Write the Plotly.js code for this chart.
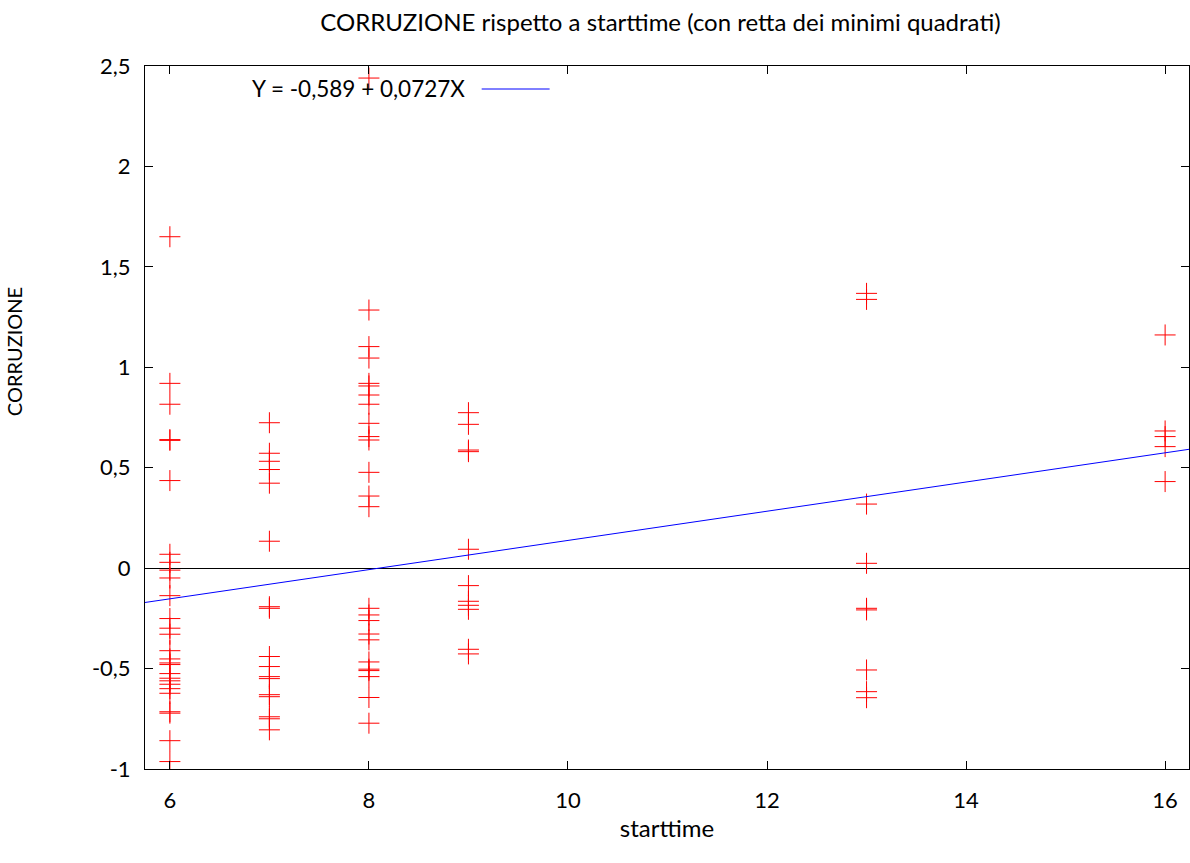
<!DOCTYPE html>
<html>
<head>
<meta charset="utf-8">
<script src="https://cdn.plot.ly/plotly-3.0.1.min.js"></script>
<style>html,body{margin:0;padding:0;background:#fff;} #chart{width:1190px;height:863px;}</style>
</head>
<body>
<div id="chart"></div>
<script>
// Data
const x6 = [1.65, 0.92, 0.816, 0.64, 0.636, 0.436, 0.069, 0.029, -0.01, -0.049, -0.137, -0.251, -0.299, -0.329, -0.411, -0.452, -0.472, -0.48, -0.525, -0.548, -0.561, -0.578, -0.60, -0.623, -0.715, -0.722, -0.859, -0.963];
const x7 = [0.724, 0.572, 0.532, 0.491, 0.423, 0.134, -0.192, -0.20, -0.44, -0.49, -0.54, -0.55, -0.63, -0.64, -0.74, -0.75, -0.805];
const x8 = [2.44, 1.285, 1.103, 1.046, 0.92, 0.907, 0.862, 0.816, 0.721, 0.655, 0.638, 0.477, 0.359, 0.306, -0.20, -0.233, -0.261, -0.328, -0.357, -0.467, -0.503, -0.51, -0.54, -0.644, -0.772];
const x9 = [0.774, 0.716, 0.588, 0.58, 0.094, -0.087, -0.165, -0.185, -0.205, -0.404, -0.427];
const x13 = [1.368, 1.338, 0.319, 0.024, -0.20, -0.208, -0.507, -0.615, -0.645];
const x16 = [1.161, 0.683, 0.655, 0.605, 0.431];
const groupX = [6, 7, 8, 9, 13, 16];
const groupY = [x6, x7, x8, x9, x13, x16];

const intercept = -0.589;
const slope = 0.0727;
const xRange = [5.75, 16.24];
const yRange = [-1, 2.5];

const yTickVals = [-1, -0.5, 0, 0.5, 1, 1.5, 2, 2.5];
const yTickText = ['-1', '-0,5', '0', '0,5', '1', '1,5', '2', '2,5'];
const xTickVals = [6, 8, 10, 12, 14, 16];
const xTickText = ['6', '8', '10', '12', '14', '16'];

const ptsX = [], ptsY = [];
groupX.forEach((gx, i) => groupY[i].forEach(v => { ptsX.push(gx); ptsY.push(v); }));

const lineX = xRange.slice();
const lineY = lineX.map(x => intercept + slope * x);

const FONT = 'Lato, "Open Sans", sans-serif';

const traces = [
  {
    x: ptsX, y: ptsY, type: 'scatter', mode: 'markers',
    marker: {symbol: 'cross-thin', size: 15, color: 'red', line: {color: 'red', width: 1}},
    showlegend: false, hoverinfo: 'x+y', cliponaxis: true
  },
  {
    x: lineX, y: lineY, type: 'scatter', mode: 'lines',
    line: {color: 'blue', width: 1}, showlegend: false
  }
];

const layout = {
  width: 1190, height: 863,
  margin: {l: 145, r: 1, t: 66, b: 94},
  paper_bgcolor: '#fff', plot_bgcolor: '#fff',
  font: {family: FONT, size: 22, color: '#000'},
  title: {text: 'CORRUZIONE rispetto a starttime (con retta dei minimi quadrati)', x: 0.555, xref: 'container', y: 0.974, yref: 'container', yanchor: 'middle', font: {family: FONT, size: 24, color: '#000'}},
  xaxis: {
    range: xRange, tickvals: xTickVals, ticktext: xTickText,
    ticks: 'inside', ticklen: 8, tickcolor: '#000', tickwidth: 1,
    showline: true, linecolor: '#000', linewidth: 1, mirror: 'ticks',
    showgrid: false, zeroline: false,
    tickfont: {family: FONT, size: 22}, ticklabelstandoff: 12,
    title: {text: 'starttime', standoff: 7, font: {family: FONT, size: 24}}
  },
  yaxis: {
    range: yRange, tickvals: yTickVals, ticktext: yTickText,
    ticks: 'inside', ticklen: 8, tickcolor: '#000', tickwidth: 1,
    showline: true, linecolor: '#000', linewidth: 1, mirror: 'ticks',
    showgrid: false, zeroline: true, zerolinecolor: '#000', zerolinewidth: 1,
    tickfont: {family: FONT, size: 22}, ticklabelstandoff: 9
  },
  annotations: [
    {text: 'Y = -0,589 + 0,0727X', xref: 'paper', yref: 'paper', x: (467 - 145) / 1045, y: 1 - (89 - 66) / 703, xanchor: 'right', yanchor: 'middle', showarrow: false, font: {family: FONT, size: 22.5}},
    {text: 'CORRUZIONE', xref: 'paper', yref: 'paper', x: (14 - 145) / 1045, y: 1 - (352 - 66) / 703, xanchor: 'center', yanchor: 'middle', textangle: -90, showarrow: false, font: {family: FONT, size: 20}}
  ],
  shapes: [
    {type: 'line', xref: 'paper', yref: 'paper', x0: (482 - 145) / 1045, x1: (550 - 145) / 1045, y0: 1 - (89 - 66) / 703, y1: 1 - (89 - 66) / 703, line: {color: 'blue', width: 1}}
  ]
};

Plotly.newPlot('chart', traces, layout, {displayModeBar: false, staticPlot: true});
</script>
</body>
</html>
